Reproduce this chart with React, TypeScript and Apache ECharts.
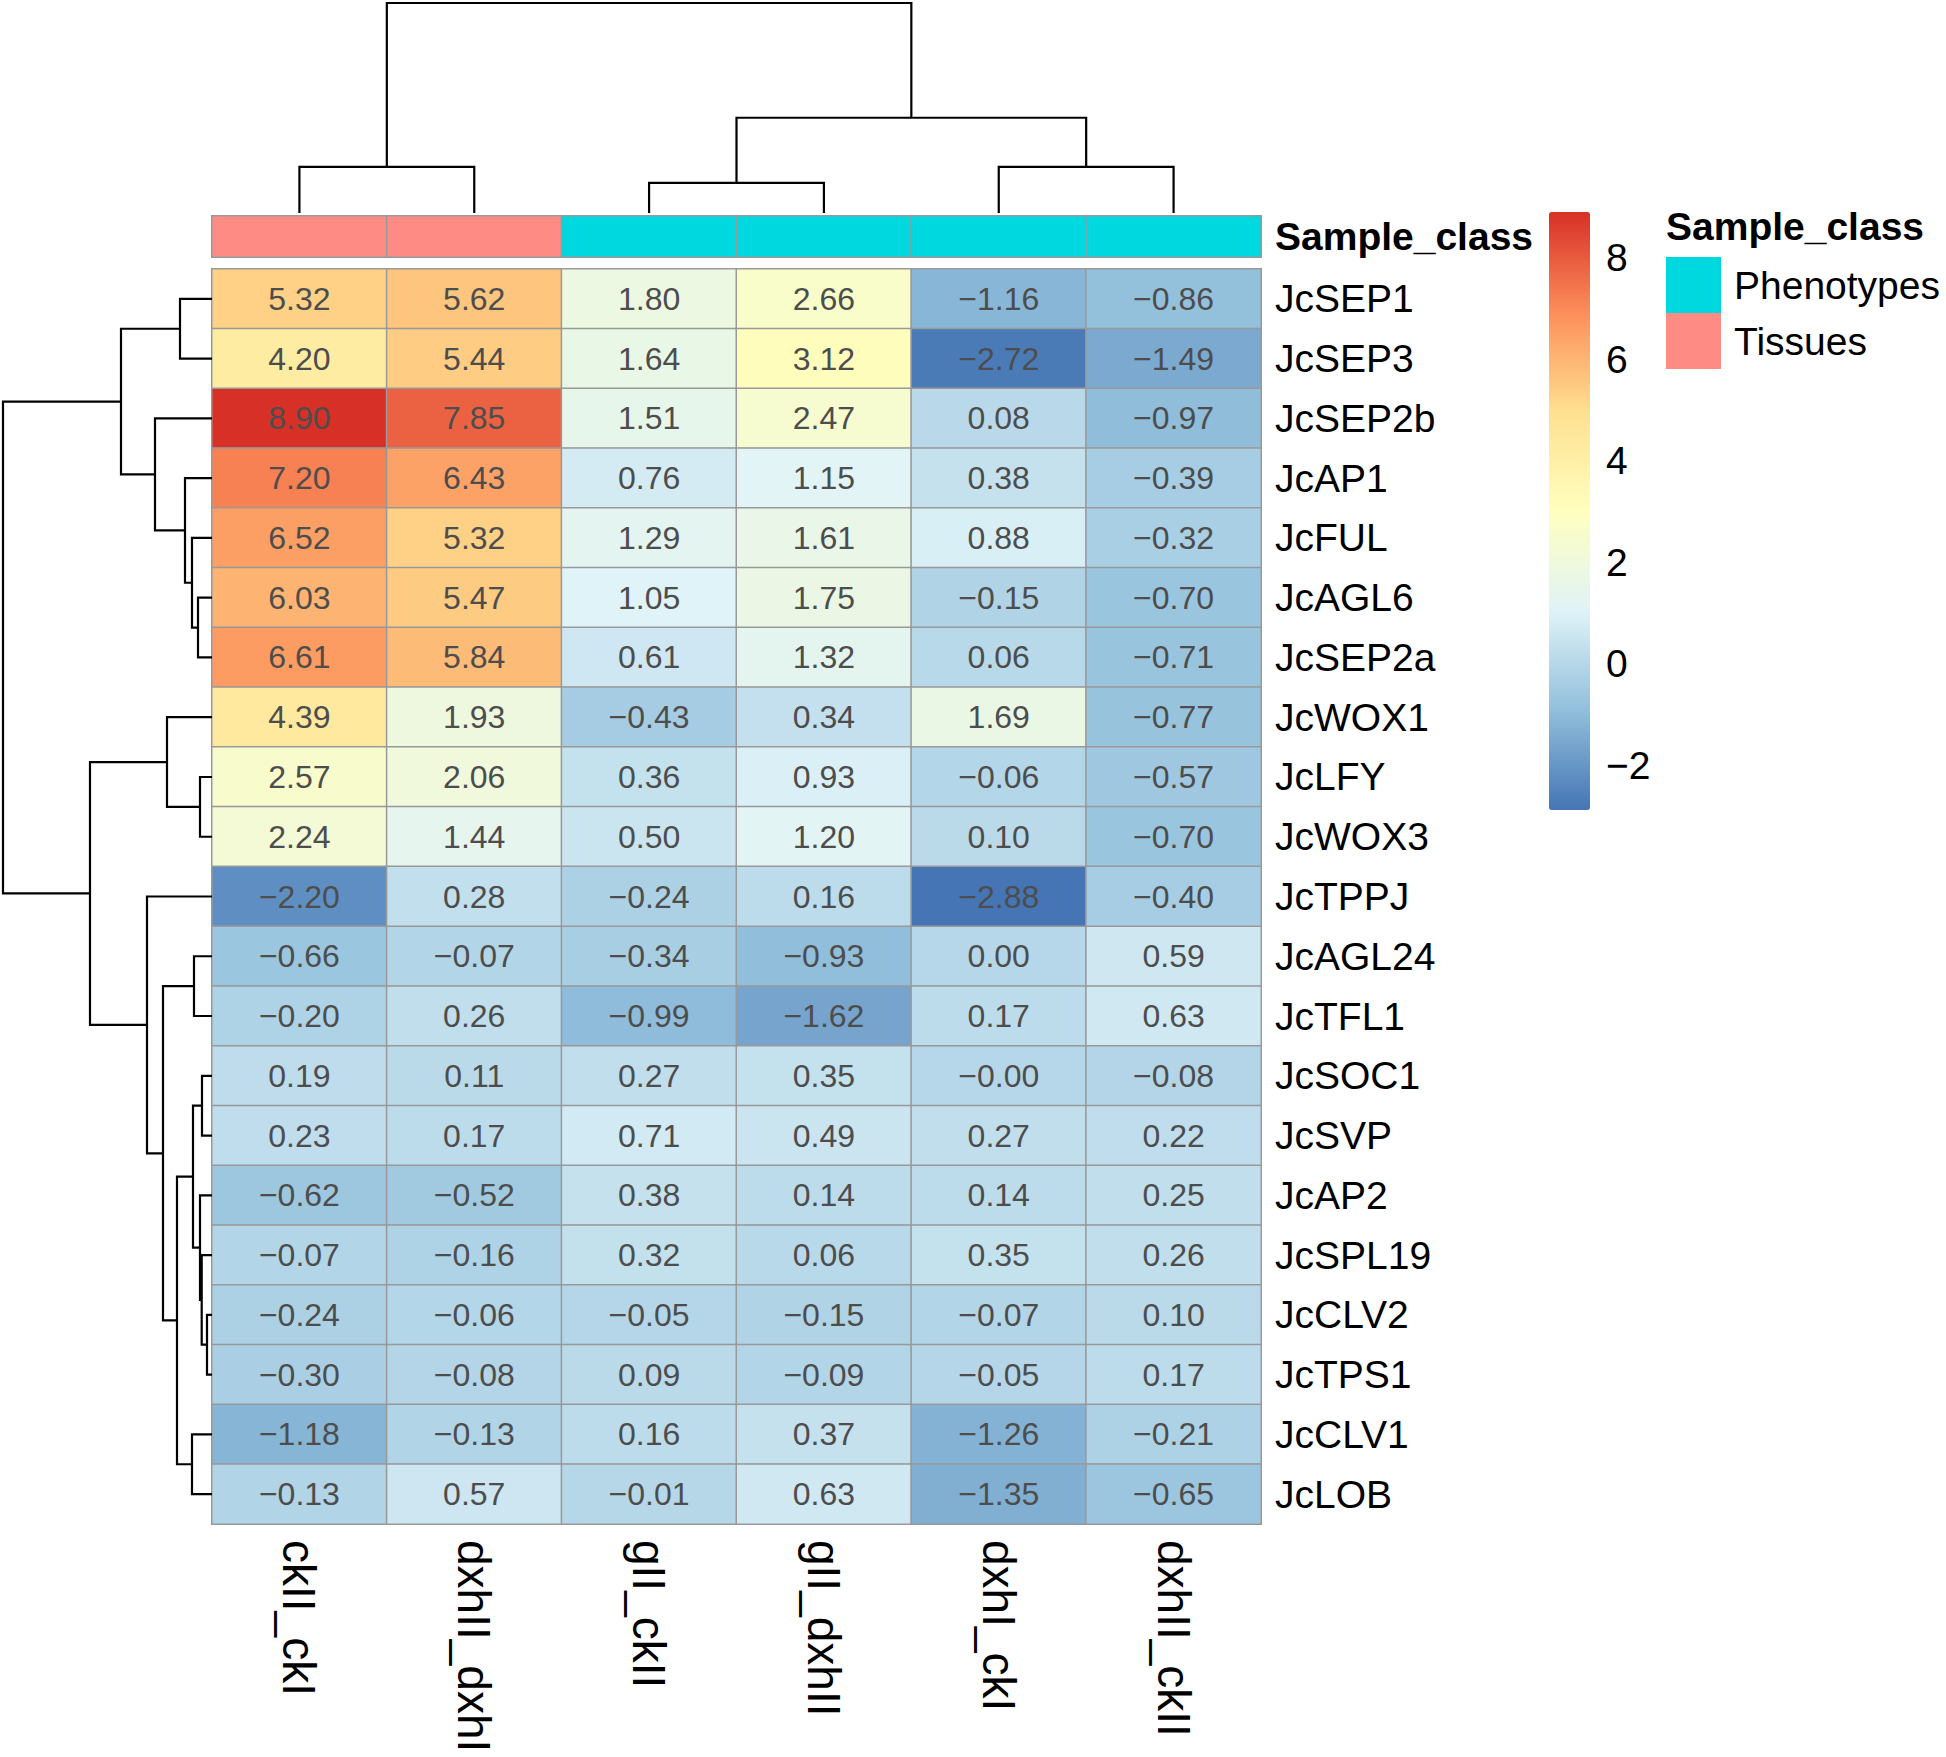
import React, { useEffect, useRef } from "react";
import * as echarts from "echarts";

const columns = ["ckII_ckI", "dxhII_dxhI", "gII_ckII", "gII_dxhII", "dxhI_ckI", "dxhII_ckII"];
const sampleClass = ["Tissues", "Tissues", "Phenotypes", "Phenotypes", "Phenotypes", "Phenotypes"];
const classNames = ["Phenotypes", "Tissues"];
const classColors = ["#00D8E0", "#FF8C84"];

const genes = [
  "JcSEP1", "JcSEP3", "JcSEP2b", "JcAP1", "JcFUL", "JcAGL6", "JcSEP2a", "JcWOX1", "JcLFY", "JcWOX3",
  "JcTPPJ", "JcAGL24", "JcTFL1", "JcSOC1", "JcSVP", "JcAP2", "JcSPL19", "JcCLV2", "JcTPS1", "JcCLV1", "JcLOB",
];

// one array per column, values in gene order
const ckII_ckI = [5.32, 4.2, 8.9, 7.2, 6.52, 6.03, 6.61, 4.39, 2.57, 2.24, -2.2, -0.66, -0.2, 0.19, 0.23, -0.62, -0.07, -0.24, -0.3, -1.18, -0.13];
const dxhII_dxhI = [5.62, 5.44, 7.85, 6.43, 5.32, 5.47, 5.84, 1.93, 2.06, 1.44, 0.28, -0.07, 0.26, 0.11, 0.17, -0.52, -0.16, -0.06, -0.08, -0.13, 0.57];
const gII_ckII = [1.8, 1.64, 1.51, 0.76, 1.29, 1.05, 0.61, -0.43, 0.36, 0.5, -0.24, -0.34, -0.99, 0.27, 0.71, 0.38, 0.32, -0.05, 0.09, 0.16, -0.01];
const gII_dxhII = [2.66, 3.12, 2.47, 1.15, 1.61, 1.75, 1.32, 0.34, 0.93, 1.2, 0.16, -0.93, -1.62, 0.35, 0.49, 0.14, 0.06, -0.15, -0.09, 0.37, 0.63];
const dxhI_ckI = [-1.16, -2.72, 0.08, 0.38, 0.88, -0.15, 0.06, 1.69, -0.06, 0.1, -2.88, 0.0, 0.17, -0.001, 0.27, 0.14, 0.35, -0.07, -0.05, -1.26, -1.35];
const dxhII_ckII = [-0.86, -1.49, -0.97, -0.39, -0.32, -0.7, -0.71, -0.77, -0.57, -0.7, -0.4, 0.59, 0.63, -0.08, 0.22, 0.25, 0.26, 0.1, 0.17, -0.21, -0.65];
const valueColumns = [ckII_ckI, dxhII_dxhI, gII_ckII, gII_dxhII, dxhI_ckI, dxhII_ckII];

const colorMin = -2.88;
const colorMax = 8.9;
const colorTicks = [-2, 0, 2, 4, 6, 8];
const palette = ["#4575B4", "#91BFDB", "#E0F3F8", "#FFFFBF", "#FEE090", "#FC8D59", "#D73027"];

// hclust-style merges: negative = leaf -(index+1), positive = earlier merge number (1-based)
const rowMerge = [
  [-1, -2], [-6, -7], [-5, 2], [-4, 3], [-3, 4], [1, 5], [-9, -10], [-8, 7], [-12, -13], [-14, -15],
  [-18, -19], [-17, 11], [-16, 12], [10, 13], [-20, -21], [14, 15], [9, 16], [-11, 17], [8, 18], [6, 19],
];
const rowHeights = [32, 14, 20, 27, 57, 91, 12, 45, 18, 10, 5, 10.3, 12, 19, 20, 35, 49, 65, 122, 209];
const colMerge = [[-1, -2], [-3, -4], [-5, -6], [2, 3], [1, 4]];
const colHeights = [46, 30, 46, 95, 209.5];

const FONT = "'Liberation Sans', Arial, Helvetica, sans-serif";

function buildDendro(merge: number[][], heights: number[]) {
  const pos: number[] = [];
  const items: number[][] = [];
  const ref = (r: number) => (r < 0 ? [-r - 1 + 0.5, 0] : [pos[r - 1], heights[r - 1]]);
  merge.forEach((m, i) => {
    const [lp, lh] = ref(m[0]);
    const [rp, rh] = ref(m[1]);
    pos.push((lp + rp) / 2);
    items.push([lp, lh, rp, rh, heights[i]]);
  });
  return items;
}

function fmt(v: number) {
  const s = Math.abs(v).toFixed(2);
  return v < 0 ? "\u2212" + s : s;
}

export default function App() {
  const ref = useRef<HTMLDivElement>(null);
  useEffect(() => {
    document.body.style.margin = "0";
    if (!ref.current) return;
    const chart = echarts.init(ref.current, undefined, { renderer: "svg" });

    const heatData: number[][] = [];
    valueColumns.forEach((col, c) => col.forEach((v, r) => heatData.push([c, r, v])));
    const annData = sampleClass.map((s, i) => [i, 0, classNames.indexOf(s)]);

    const rowItems = buildDendro(rowMerge, rowHeights);
    const colItems = buildDendro(colMerge, colHeights);
    const rowMax = rowHeights[rowHeights.length - 1];
    const colMax = colHeights[colHeights.length - 1];

    const hmLeft = 212, hmTop = 269, hmW = 1049, hmH = 1255;
    const lineStyle = { stroke: "#000", lineWidth: 2.2, fill: null as any };

    chart.setOption({
      animation: false,
      backgroundColor: "#ffffff",
      title: {
        text: "Sample_class",
        left: 1666,
        top: 207,
        padding: 0,
        textStyle: { fontSize: 39, fontWeight: "bold", color: "#000", fontFamily: FONT },
      },
      grid: [
        { left: hmLeft, top: hmTop, width: hmW, height: hmH },
        { left: hmLeft, top: 216, width: hmW, height: 41 },
        { left: hmLeft, top: 3, width: hmW, height: 210 },
        { left: 3, top: hmTop, width: 209, height: hmH },
        { left: 1549, top: 212, width: 41, height: 598 },
      ],
      xAxis: [
        {
          gridIndex: 0,
          type: "category",
          data: columns,
          position: "bottom",
          axisLine: { show: false },
          axisTick: { show: false },
          splitLine: { show: false },
          axisLabel: { rotate: -90, margin: 16, fontSize: 46, color: "#000", fontFamily: FONT },
        },
        { gridIndex: 1, type: "category", data: columns, show: false },
        { gridIndex: 2, type: "value", min: 0, max: columns.length, show: false },
        { gridIndex: 3, type: "value", min: 0, max: rowMax, inverse: true, show: false },
        { gridIndex: 4, type: "value", min: 0, max: 1, show: false },
      ],
      yAxis: [
        {
          gridIndex: 0,
          type: "category",
          data: genes,
          inverse: true,
          position: "right",
          axisLine: { show: false },
          axisTick: { show: false },
          splitLine: { show: false },
          axisLabel: { margin: 14, fontSize: 39, color: "#000", fontFamily: FONT },
        },
        {
          gridIndex: 1,
          type: "category",
          data: ["Sample_class"],
          position: "right",
          axisLine: { show: false },
          axisTick: { show: false },
          splitLine: { show: false },
          axisLabel: { margin: 14, fontSize: 39, fontWeight: "bold", color: "#000", fontFamily: FONT },
        },
        { gridIndex: 2, type: "value", min: 0, max: colMax, show: false },
        { gridIndex: 3, type: "value", min: 0, max: genes.length, inverse: true, show: false },
        {
          gridIndex: 4,
          type: "value",
          min: colorMin,
          max: colorMax,
          position: "right",
          axisLine: { show: false },
          axisTick: { show: false },
          splitLine: { show: false },
          axisLabel: {
            customValues: colorTicks,
            margin: 16,
            fontSize: 39,
            color: "#000",
            fontFamily: FONT,
            formatter: (v: number) => (v < 0 ? "\u2212" + Math.abs(v) : String(v)),
          },
        },
      ],
      visualMap: [
        {
          type: "continuous",
          seriesIndex: 0,
          dimension: 2,
          min: colorMin,
          max: colorMax,
          inRange: { color: palette },
          calculable: false,
          hoverLink: false,
          left: 1549,
          top: 212,
          itemWidth: 41,
          itemHeight: 598,
          padding: 0,
          text: null,
        },
        {
          type: "piecewise",
          seriesIndex: 1,
          dimension: 2,
          pieces: classNames.map((name, k) => ({ value: k, label: name, color: classColors[k] })),
          orient: "vertical",
          inverse: true,
          align: "left",
          left: 1666,
          top: 257,
          padding: 0,
          itemWidth: 55,
          itemHeight: 56,
          itemGap: 0,
          itemSymbol: "rect",
          textGap: 13,
          hoverLink: false,
          selectedMode: false,
          textStyle: { fontSize: 39, color: "#000", fontFamily: FONT },
        },
      ],
      series: [
        {
          type: "heatmap",
          xAxisIndex: 0,
          yAxisIndex: 0,
          data: heatData,
          itemStyle: { borderColor: "#999999", borderWidth: 1.5 },
          emphasis: { disabled: true },
          label: {
            show: true,
            fontSize: 32,
            color: "#4D4D4D",
            fontFamily: FONT,
            formatter: (p: any) => fmt(p.value[2]),
          },
        },
        {
          type: "heatmap",
          xAxisIndex: 1,
          yAxisIndex: 1,
          data: annData,
          itemStyle: { borderColor: "#999999", borderWidth: 1.5 },
          emphasis: { disabled: true },
        },
        {
          type: "custom",
          xAxisIndex: 2,
          yAxisIndex: 2,
          clip: false,
          data: colItems,
          renderItem: (params: any, api: any) => {
            const lp = api.value(0), lh = api.value(1), rp = api.value(2), rh = api.value(3), h = api.value(4);
            return {
              type: "polyline",
              shape: { points: [api.coord([lp, lh]), api.coord([lp, h]), api.coord([rp, h]), api.coord([rp, rh])] },
              style: lineStyle,
            };
          },
        },
        {
          type: "custom",
          xAxisIndex: 3,
          yAxisIndex: 3,
          clip: false,
          data: rowItems,
          renderItem: (params: any, api: any) => {
            const lp = api.value(0), lh = api.value(1), rp = api.value(2), rh = api.value(3), h = api.value(4);
            return {
              type: "polyline",
              shape: { points: [api.coord([lh, lp]), api.coord([h, lp]), api.coord([h, rp]), api.coord([rh, rp])] },
              style: lineStyle,
            };
          },
        },
      ],
    });
    return () => chart.dispose();
  }, []);
  return <div ref={ref} style={{ width: 1946, height: 1757 }} />;
}
